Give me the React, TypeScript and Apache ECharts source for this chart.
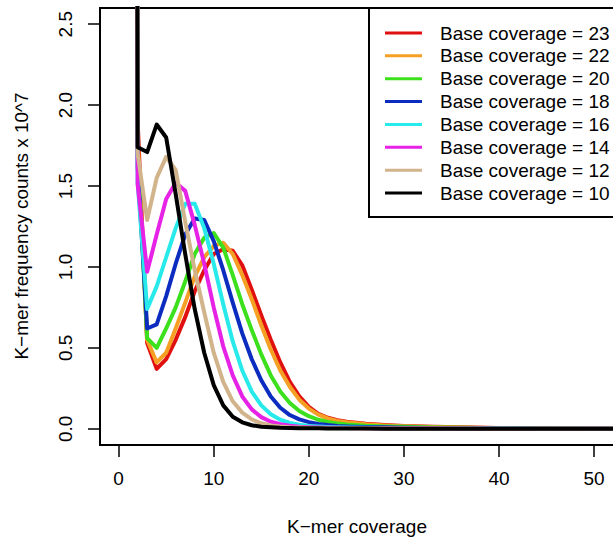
import React, { useEffect, useRef } from "react";
import * as echarts from "echarts";

// K-mer coverage (x) and frequency counts in units of 10^7 (y)
const coverage = [1, 2, 3, 4, 5, 6, 7, 8, 9, 10, 11, 12, 13, 14, 15, 16, 17, 18, 19, 20, 21, 22, 23, 24, 26, 28, 30, 33, 36, 40, 45, 50, 55, 60];

const cov23 = [18, 1.90, 0.53, 0.37, 0.43, 0.55, 0.69, 0.85, 0.98, 1.08, 1.11, 1.10, 1.01, 0.86, 0.70, 0.55, 0.41, 0.29, 0.20, 0.135, 0.093, 0.068, 0.053, 0.044, 0.031, 0.023, 0.017, 0.012, 0.009, 0.005, 0.002, 0.001, 0.001, 0.001];
const cov22 = [19, 1.80, 0.55, 0.41, 0.47, 0.62, 0.78, 0.94, 1.06, 1.13, 1.15, 1.08, 0.95, 0.80, 0.64, 0.49, 0.36, 0.26, 0.18, 0.125, 0.088, 0.064, 0.049, 0.040, 0.028, 0.021, 0.016, 0.011, 0.008, 0.004, 0.002, 0.001, 0.001, 0.001];
const cov20 = [20, 1.70, 0.56, 0.50, 0.62, 0.75, 0.91, 1.08, 1.18, 1.21, 1.12, 0.95, 0.77, 0.61, 0.46, 0.33, 0.23, 0.16, 0.11, 0.078, 0.056, 0.042, 0.033, 0.027, 0.019, 0.015, 0.012, 0.008, 0.006, 0.003, 0.002, 0.001, 0.001, 0.001];
const cov18 = [22, 1.62, 0.62, 0.645, 0.82, 1.02, 1.20, 1.30, 1.29, 1.16, 0.98, 0.78, 0.59, 0.43, 0.30, 0.20, 0.13, 0.085, 0.058, 0.041, 0.030, 0.023, 0.018, 0.015, 0.011, 0.009, 0.007, 0.005, 0.004, 0.002, 0.001, 0.001, 0.001, 0.001];
const cov16 = [24, 1.52, 0.74, 0.88, 1.06, 1.24, 1.39, 1.39, 1.24, 1.02, 0.77, 0.54, 0.36, 0.23, 0.145, 0.09, 0.056, 0.036, 0.025, 0.018, 0.014, 0.011, 0.009, 0.008, 0.006, 0.005, 0.004, 0.003, 0.003, 0.002, 0.001, 0.001, 0.001, 0.001];
const cov14 = [26, 1.51, 0.97, 1.20, 1.42, 1.52, 1.47, 1.26, 1.02, 0.75, 0.51, 0.33, 0.20, 0.12, 0.072, 0.044, 0.028, 0.019, 0.013, 0.010, 0.008, 0.007, 0.006, 0.005, 0.004, 0.004, 0.003, 0.003, 0.002, 0.001, 0.001, 0.001, 0.001, 0.001];
const cov12 = [28, 1.70, 1.29, 1.55, 1.68, 1.60, 1.28, 0.98, 0.72, 0.47, 0.29, 0.17, 0.10, 0.058, 0.034, 0.021, 0.014, 0.010, 0.008, 0.006, 0.005, 0.004, 0.004, 0.003, 0.003, 0.002, 0.002, 0.002, 0.002, 0.001, 0.001, 0.001, 0.001, 0.001];
const cov10 = [30, 1.74, 1.71, 1.88, 1.80, 1.45, 1.08, 0.74, 0.47, 0.27, 0.145, 0.075, 0.040, 0.022, 0.013, 0.009, 0.006, 0.005, 0.004, 0.003, 0.003, 0.002, 0.002, 0.002, 0.002, 0.001, 0.001, 0.001, 0.001, 0.001, 0.001, 0.001, 0.001, 0.001];

const seriesNames = [
  "Base coverage = 23",
  "Base coverage = 22",
  "Base coverage = 20",
  "Base coverage = 18",
  "Base coverage = 16",
  "Base coverage = 14",
  "Base coverage = 12",
  "Base coverage = 10",
];
const seriesValues = [cov23, cov22, cov20, cov18, cov16, cov14, cov12, cov10];
const seriesColors = ["#e01010", "#f5a024", "#3de01c", "#0c2cc0", "#28eaea", "#e622e6", "#d2b48c", "#000000"];

const xTicks = [0, 10, 20, 30, 40, 50];
const yTicks = [0, 0.5, 1.0, 1.5, 2.0, 2.5];

const FONT = "Liberation Sans, Arial, sans-serif";

export default function App() {
  const ref = useRef<HTMLDivElement>(null);

  useEffect(() => {
    if (!ref.current) return;
    const chart = echarts.init(ref.current, undefined, { renderer: "svg" });
    chart.setOption({
      animation: false,
      backgroundColor: "#ffffff",
      grid: {
        show: true,
        left: 100,
        top: 8,
        width: 760,
        height: 437,
        outerBoundsMode: "none",
        containLabel: false,
        borderColor: "#000",
        borderWidth: 2,
        backgroundColor: "transparent",
      },
      xAxis: {
        type: "value",
        position: "bottom",
        min: -1.96,
        max: 77.96,
        axisLine: { show: false, onZero: false },
        splitLine: { show: false },
        axisTick: {
          show: true,
          inside: false,
          customValues: xTicks,
          length: 12,
          lineStyle: { color: "#000", width: 1.5 },
        },
        axisLabel: {
          customValues: xTicks,
          formatter: (v: number) => String(v),
          fontSize: 19,
          fontFamily: FONT,
          color: "#000",
          margin: 24,
        },
      },
      yAxis: {
        type: "value",
        position: "left",
        min: -0.1,
        max: 2.6,
        axisLine: { show: false, onZero: false },
        splitLine: { show: false },
        axisTick: {
          show: true,
          inside: false,
          customValues: yTicks,
          length: 12,
          lineStyle: { color: "#000", width: 1.5 },
        },
        axisLabel: {
          customValues: yTicks,
          formatter: (v: number) => v.toFixed(1),
          rotate: 90,
          fontSize: 19,
          fontFamily: FONT,
          color: "#000",
          margin: 25,
        },
      },
      legend: {
        orient: "vertical",
        left: 369,
        top: 8,
        backgroundColor: "#fff",
        borderColor: "#000",
        borderWidth: 2,
        borderRadius: 0,
        padding: [15, 40, 14, 16],
        itemGap: 2.86,
        itemWidth: 37,
        itemHeight: 3,
        icon: "rect",
        selectedMode: false,
        textStyle: {
          fontSize: 19,
          fontFamily: FONT,
          color: "#000",
          lineHeight: 20,
          padding: [0, 0, 0, 13],
        },
        data: seriesNames,
      },
      graphic: [
        {
          type: "text",
          x: 357,
          y: 526,
          style: {
            text: "K\u2212mer coverage",
            fontSize: 19,
            fontFamily: FONT,
            fill: "#000",
            align: "center",
            verticalAlign: "middle",
          },
        },
        {
          type: "text",
          x: 21,
          y: 226,
          rotation: Math.PI / 2,
          style: {
            text: "K\u2212mer frequency counts x 10^7",
            fontSize: 19,
            fontFamily: FONT,
            fill: "#000",
            align: "center",
            verticalAlign: "middle",
          },
        },
      ],
      series: seriesNames.map((name, si) => ({
        name,
        type: "line",
        symbol: "none",
        showSymbol: false,
        silent: true,
        clip: true,
        color: seriesColors[si],
        lineStyle: { color: seriesColors[si], width: 4, cap: "round", join: "round" },
        data: coverage.map((x, i) => [x, seriesValues[si][i]]),
      })),
    });
    return () => chart.dispose();
  }, []);

  return (
    <div
      ref={ref}
      style={{ position: "fixed", left: 0, top: 0, width: 613, height: 540, background: "#fff" }}
    />
  );
}
